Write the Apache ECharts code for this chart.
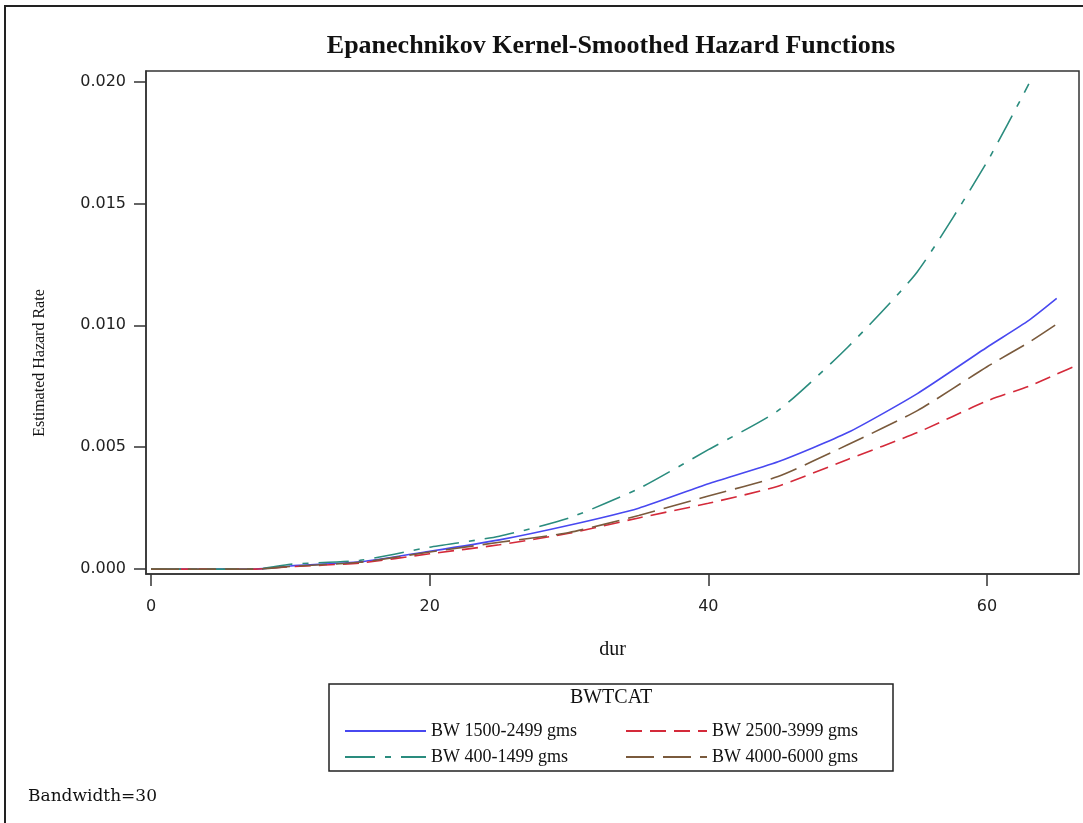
<!DOCTYPE html>
<html>
<head>
<meta charset="utf-8">
<title>Epanechnikov Kernel-Smoothed Hazard Functions</title>
<script src="https://cdn.jsdelivr.net/npm/echarts@6/dist/echarts.min.js"></script>
<style>
    html, body { margin: 0; padding: 0; background: #fff; }
    #chart { width: 1083px; height: 823px; }
</style>
</head>
<body>
<div id="chart"></div>
<script>
// durations (x) shared by all curves; null = curve not drawn there
var dur = [0, 7.5, 10, 15, 20, 25, 30, 35, 40, 45, 50, 55, 60, 63, 65, 66.6];

var bw1500 = [0, 0, 0.00013, 0.0003, 0.00073, 0.0012, 0.0018, 0.0025, 0.0035, 0.0044, 0.0056, 0.0072, 0.0091, 0.0102, 0.0111, null];
var bw2500 = [0, 0, 0.0001, 0.00025, 0.00063, 0.001, 0.00147, 0.0021, 0.0027, 0.0034, 0.0045, 0.0056, 0.0069, 0.0075, 0.008, 0.0084];
var bw400 = [0, 0, 0.0002, 0.00036, 0.0009, 0.00135, 0.0021, 0.0033, 0.0049, 0.0065, 0.0091, 0.0122, 0.0167, 0.0199, null, null];
var bw4000 = [0, 0, 0.00011, 0.00028, 0.0007, 0.0011, 0.0015, 0.0022, 0.003, 0.0038, 0.0051, 0.0065, 0.0083, 0.0093, 0.01005, null];

var yTicks = [0, 0.005, 0.01, 0.015, 0.02];
var xTicks = [0, 20, 40, 60];

function pairs(values) {
    var out = [];
    for (var i = 0; i < dur.length; i++) {
        if (values[i] !== null) {
            out.push([dur[i], values[i]]);
        }
    }
    return out;
}

function line(name, values, color, dash) {
    return {
        name: name,
        type: 'line',
        data: pairs(values),
        symbol: 'none',
        smooth: 0.2,
        animation: false,
        lineStyle: {
            color: color,
            width: 1.6,
            type: dash
        },
        itemStyle: { color: color }
    };
}

var chart = echarts.init(document.getElementById('chart'));

var legendText = {
    fontFamily: 'Liberation Serif',
    fontSize: 18,
    color: '#111'
};

var axisFont = {
    fontFamily: 'DejaVu Sans',
    fontSize: 16,
    color: '#222'
};

chart.setOption({
    backgroundColor: '#fff',
    title: {
        text: 'Epanechnikov Kernel-Smoothed Hazard Functions',
        left: 606,
        top: 28,
        textAlign: 'center',
        textStyle: {
            fontFamily: 'Liberation Serif',
            fontWeight: 'bold',
            fontSize: 26,
            color: '#111'
        }
    },
    grid: {
        left: 146,
        right: 4,
        top: 71,
        bottom: 249,
        show: true,
        borderColor: '#333',
        borderWidth: 1.5,
        containLabel: false
    },
    xAxis: {
        type: 'value',
        min: -0.36,
        max: 66.6,
        name: 'dur',
        nameLocation: 'middle',
        nameGap: 66,
        nameTextStyle: {
            fontFamily: 'Liberation Serif',
            fontSize: 20,
            color: '#111'
        },
        axisLine: { show: true, onZero: false, lineStyle: { color: '#333', width: 1.5 } },
        axisTick: {
            show: true,
            length: 12,
            customValues: xTicks,
            lineStyle: { color: '#333', width: 1.5 }
        },
        axisLabel: Object.assign({ customValues: xTicks, margin: 25 }, axisFont),
        splitLine: { show: false }
    },
    yAxis: {
        type: 'value',
        min: -0.0002,
        max: 0.02043,
        axisLine: { show: true, onZero: false, lineStyle: { color: '#333', width: 1.5 } },
        axisTick: {
            show: true,
            length: 12,
            customValues: yTicks,
            lineStyle: { color: '#333', width: 1.5 }
        },
        axisLabel: Object.assign({
            customValues: yTicks,
            margin: 20,
            formatter: function(v) {
                return v.toFixed(3);
            }
        }, axisFont),
        splitLine: { show: false }
    },
    legend: [{
        data: ['BW 1500-2499 gms', 'BW 400-1499 gms'],
        orient: 'vertical',
        left: 339,
        top: 717,
        itemWidth: 81,
        itemHeight: 14,
        itemGap: 8,
        itemStyle: { opacity: 0 },
        textStyle: legendText
    }, {
        data: ['BW 2500-3999 gms', 'BW 4000-6000 gms'],
        orient: 'vertical',
        left: 620,
        top: 717,
        itemWidth: 81,
        itemHeight: 14,
        itemGap: 8,
        itemStyle: { opacity: 0 },
        textStyle: legendText
    }],
    graphic: [{
        type: 'rect',
        shape: { x: 5, y: 6, width: 1200, height: 900 },
        style: { fill: null, stroke: '#222', lineWidth: 2 },
        silent: true
    }, {
        type: 'rect',
        shape: { x: 329, y: 684, width: 564, height: 87 },
        style: { fill: null, stroke: '#222', lineWidth: 1.5 },
        silent: true
    }, {
        type: 'text',
        x: 611,
        y: 688,
        style: {
            text: 'BWTCAT',
            textAlign: 'center',
            fontFamily: 'Liberation Serif',
            fontSize: 20,
            fill: '#111'
        }
    }, {
        type: 'text',
        x: 40,
        y: 363,
        rotation: Math.PI / 2,
        style: {
            text: 'Estimated Hazard Rate',
            textAlign: 'center',
            textVerticalAlign: 'middle',
            fontFamily: 'Liberation Serif',
            fontSize: 16,
            fill: '#111'
        }
    }, {
        type: 'text',
        x: 28,
        y: 788,
        style: {
            text: 'Bandwidth=30',
            fontFamily: 'DejaVu Serif',
            fontSize: 17,
            fill: '#111'
        }
    }],
    series: [
        line('BW 1500-2499 gms', bw1500, '#4848f0', 'solid'),
        line('BW 2500-3999 gms', bw2500, '#d42a3a', [16, 8]),
        line('BW 400-1499 gms', bw400, '#2a8c7e', [30, 10, 6, 10]),
        line('BW 4000-6000 gms', bw4000, '#7a5a3c', [28, 9])
    ]
});
</script>
</body>
</html>
